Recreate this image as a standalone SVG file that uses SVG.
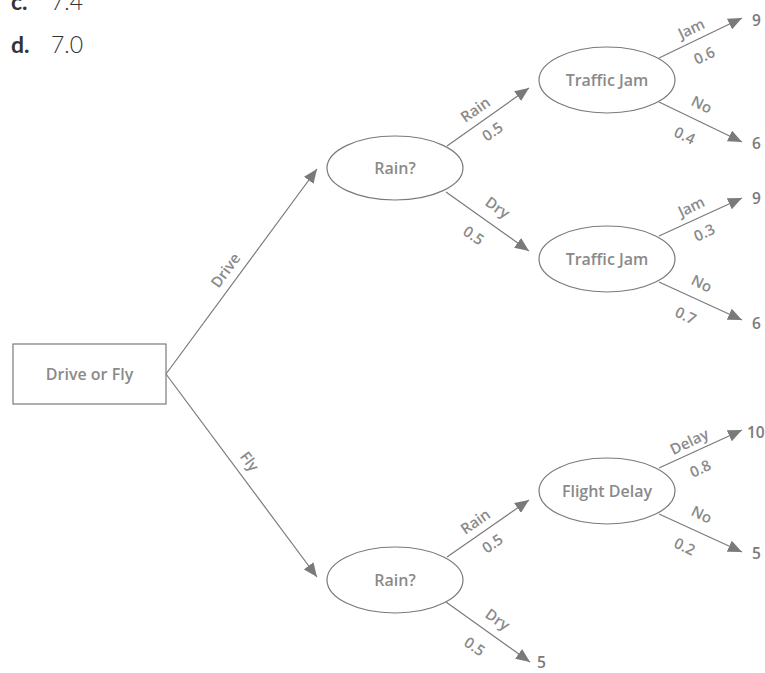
<svg xmlns="http://www.w3.org/2000/svg" width="765" height="673" viewBox="0 0 765 673">
<style>
.node{fill:#fff;stroke:#7a7a7a;stroke-width:1.2}
.nt{font-family:"Open Sans","Noto Sans",sans-serif;font-weight:600;font-size:16px;fill:#8a8a8a;text-anchor:middle;dominant-baseline:central}
.lb{font-family:"Open Sans","Noto Sans",sans-serif;font-weight:600;font-size:15px;fill:#8a8a8a;text-anchor:middle;dominant-baseline:central}
.val{font-family:"Open Sans","Noto Sans",sans-serif;font-weight:600;font-size:15.5px;fill:#7a7a7a;dominant-baseline:central}
.edge{stroke:#7a7a7a;stroke-width:1.2;fill:none;marker-end:url(#ah)}
.q{font-family:Lato,"Noto Sans",sans-serif;font-size:23px;fill:#333}
.qb{font-weight:700}
.qn{font-weight:300}
</style>
<defs>
<marker id="ah" markerUnits="userSpaceOnUse" markerWidth="14" markerHeight="12" refX="14" refY="6" orient="auto">
<path d="M0,0 L14,6 L0,12 z" fill="#7a7a7a"/>
</marker>
</defs>
<g id="question">
<text class="q" x="11" y="10"><tspan class="qb">c.</tspan><tspan class="qn" x="51">7.4</tspan></text>
<text class="q" x="11" y="53"><tspan class="qb">d.</tspan><tspan class="qn" x="51">7.0</tspan></text>
</g>
<g id="connectors">
<line class="edge" x1="166" y1="374" x2="317" y2="169"/>
<line class="edge" x1="166" y1="374" x2="317" y2="577"/>
<line class="edge" x1="447" y1="146" x2="529" y2="88"/>
<line class="edge" x1="446" y1="192" x2="529" y2="251"/>
<line class="edge" x1="659" y1="58" x2="742" y2="18"/>
<line class="edge" x1="659" y1="102" x2="742" y2="142"/>
<line class="edge" x1="659" y1="236" x2="742" y2="198"/>
<line class="edge" x1="659" y1="282" x2="742" y2="320"/>
<line class="edge" x1="447" y1="557" x2="529" y2="500"/>
<line class="edge" x1="446" y1="602" x2="530" y2="662"/>
<line class="edge" x1="659" y1="468" x2="742" y2="430"/>
<line class="edge" x1="659" y1="514" x2="742" y2="552"/>
<text class="lb" transform="translate(225,270) rotate(-53.6)">Drive</text>
<text class="lb" transform="translate(250,461) rotate(53.4)">Fly</text>
<text class="lb" transform="translate(475,109) rotate(-35)">Rain</text>
<text class="lb" transform="translate(492,131) rotate(-35)">0.5</text>
<text class="lb" transform="translate(498,207) rotate(35)">Dry</text>
<text class="lb" transform="translate(474,235) rotate(35)">0.5</text>
<text class="lb" transform="translate(691,28) rotate(-25.7)">Jam</text>
<text class="lb" transform="translate(704,55) rotate(-25.7)">0.6</text>
<text class="lb" transform="translate(702,104) rotate(25.7)">No</text>
<text class="lb" transform="translate(685,135) rotate(25.7)">0.4</text>
<text class="lb" transform="translate(691,206) rotate(-25.7)">Jam</text>
<text class="lb" transform="translate(704,232) rotate(-25.7)">0.3</text>
<text class="lb" transform="translate(702,283) rotate(25.7)">No</text>
<text class="lb" transform="translate(686,315) rotate(25.7)">0.7</text>
<text class="lb" transform="translate(475,521) rotate(-35)">Rain</text>
<text class="lb" transform="translate(492,543) rotate(-35)">0.5</text>
<text class="lb" transform="translate(498,619) rotate(35)">Dry</text>
<text class="lb" transform="translate(475,646) rotate(35)">0.5</text>
<text class="lb" transform="translate(689,441) rotate(-25.7)">Delay</text>
<text class="lb" transform="translate(700,468) rotate(-25.7)">0.8</text>
<text class="lb" transform="translate(702,514) rotate(25.7)">No</text>
<text class="lb" transform="translate(685,546) rotate(25.7)">0.2</text>
</g>
<g id="n-root">
<rect class="node" x="13" y="344" width="153" height="60"/>
<text class="nt" x="89.5" y="374">Drive or Fly</text>
</g>
<g id="n-rain1">
<ellipse class="node" cx="395" cy="168" rx="68" ry="32"/>
<text class="nt" x="395" y="168">Rain?</text>
</g>
<g id="n-tj1">
<ellipse class="node" cx="607" cy="80" rx="68" ry="33"/>
<text class="nt" x="607" y="80">Traffic Jam</text>
</g>
<g id="n-tj2">
<ellipse class="node" cx="607" cy="259" rx="68" ry="33"/>
<text class="nt" x="607" y="259">Traffic Jam</text>
</g>
<g id="n-rain2">
<ellipse class="node" cx="395" cy="580" rx="68" ry="33"/>
<text class="nt" x="395" y="580">Rain?</text>
</g>
<g id="n-fd">
<ellipse class="node" cx="607" cy="491" rx="68" ry="33"/>
<text class="nt" x="607" y="491">Flight Delay</text>
</g>
<g id="outcomes">
<text class="val" x="752" y="20">9</text>
<text class="val" x="752" y="143">6</text>
<text class="val" x="752" y="198">9</text>
<text class="val" x="752" y="323">6</text>
<text class="val" x="747" y="432">10</text>
<text class="val" x="752" y="553">5</text>
<text class="val" x="537" y="662">5</text>
</g>
</svg>
